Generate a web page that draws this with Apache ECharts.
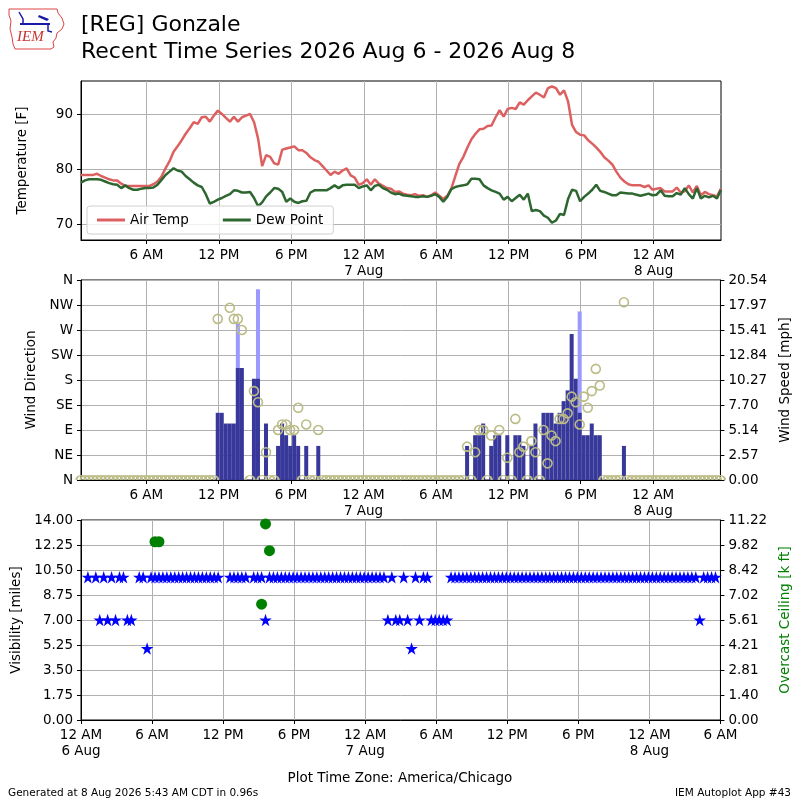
<!DOCTYPE html>
<html>
<head>
<meta charset="utf-8">
<title>[REG] Gonzale</title>
<script src="https://cdn.jsdelivr.net/npm/echarts@6/dist/echarts.min.js"></script>
<style>
    html, body { margin: 0; padding: 0; background: #fff; }
    #chart { width: 800px; height: 800px; }
</style>
</head>
<body>
<div id="chart"></div>
<script>
'use strict';

// observations every 20 minutes, first at 00:35 on 6 Aug (hours since 6 Aug 00:00)
var firstObs = 35 / 60;
var obsStep = 1 / 3;

var airTemp = [
    79, 79, 79, 79, 79.2, 78.8, 78.5, 78.2, 78, 78, 77.4, 77,
    77, 77, 77, 77, 77, 77, 77.3, 77.8, 78.7, 80.2, 81.5, 83.2,
    84.2, 85.3, 86.5, 87.5, 88.6, 88.3, 89.5, 89.6, 88.7, 89.8, 90.7, 90.1,
    89.4, 88.7, 89.6, 88.7, 89.5, 89.8, 90.1, 88.6, 85.6, 80.6, 82.6, 82.3,
    81.1, 80.9, 83.6, 83.8, 84, 84.2, 83.5, 83.5, 83, 82.2, 81.7, 81.4,
    80.6, 79.8, 79, 79.6, 79.2, 79.8, 80.2, 78.9, 78.5, 77.2, 77.5, 78.2,
    77.2, 78.2, 77.4, 77, 76.6, 76.5, 75.9, 76, 75.6, 75.4, 75.3, 75.5,
    75.2, 75.3, 75, 75.3, 75.8, 75.2, 74.6, 75.2, 76.5, 78.8, 81, 82.3,
    84, 85.5, 86.5, 87.3, 87.4, 87.9, 88, 89.5, 90.8, 89.6, 91, 91.2,
    91, 92.2, 91.8, 92.6, 93.3, 94, 93.6, 93.1, 94.8, 95.1, 94.8, 93.6,
    94.4, 92.4, 88.1, 86.8, 86.3, 86.2, 85.3, 84.7, 84, 83.2, 82.2, 81.6,
    80.9, 79.6, 78.5, 77.8, 77.3, 77.1, 77.1, 77.1, 76.8, 77.1, 76.3, 76.5,
    76.6, 76, 76, 76, 76.7, 75.8, 76, 77.1, 75.8, 77, 75.3, 75.9,
    75.5, 75.3, 75.1, 76.5
];

var dewPoint = [
    77.6, 78, 78.2, 78.2, 78.2, 78.1, 77.8, 77.5, 77.3, 77.2, 76.6, 77.1,
    76.6, 76.3, 76.3, 76.5, 76.6, 76.6, 76.7, 77.2, 78.1, 79, 79.6, 80.2,
    79.8, 79.6, 78.8, 78.2, 77.6, 77.1, 76.8, 75.5, 73.8, 74.1, 74.5, 74.8,
    75.2, 75.5, 76.2, 76.1, 75.8, 75.8, 75.9, 74.8, 73.3, 74, 75.1, 75.8,
    76.6, 76.5, 75.9, 74.1, 74.7, 74.1, 73.9, 74.2, 74.3, 75.8, 76.2, 76.2,
    76.2, 76.2, 76.6, 77.1, 76.6, 77.1, 77.2, 77.2, 77.2, 76.6, 76.9, 77.1,
    76.2, 77, 77.2, 76.6, 76.3, 75.8, 75.5, 75.6, 75.3, 75.2, 75.1, 75,
    75, 75.1, 75, 75.2, 75.5, 75, 74.1, 75, 76.4, 76.8, 77, 77.1,
    77.3, 78.3, 78.3, 78.2, 77.1, 76.6, 76.2, 75.9, 75.6, 74.5, 75, 74.2,
    74.8, 75.4, 74.5, 75.6, 72.4, 72.6, 72.4, 71.6, 71.2, 70.3, 70.7, 71.9,
    71.7, 74.6, 76.3, 76.1, 74.2, 75, 75.6, 76.3, 77.2, 76.1, 75.9, 75.6,
    75.3, 75.3, 75.8, 75.7, 75.6, 75.6, 75.4, 75.2, 75.4, 75.6, 75.3, 75.4,
    76.2, 75.2, 75.1, 75.1, 75.7, 75.4, 76.6, 75.5, 74.7, 76.6, 74.7, 75.2,
    74.9, 75.2, 74.7, 76.3
];

// degrees, 0 when calm
var windDir = [
    0, 0, 0, 0, 0, 0, 0, 0, 0, 0, 0, 0, 0, 0, 0, 0, 0, 0, 0, 0,
    0, 0, 0, 0, 0, 0, 0, 0, 0, 0, 0, 0, 0, 0, 290, null, null, 310, 290, 290,
    270, null, 0, 160, 140, 0, 50, 0, 0, 90, 100, 100, 90, 90, 130, 0, 100, 0, 0, 90,
    0, 0, 0, 0, 0, 0, 0, 0, 0, 0, 0, 0, 0, 0, 0, 0, 0, 0, 0, 0,
    0, 0, 0, 0, 0, 0, 0, 0, 0, 0, 0, 0, 0, 0, 0, 0, 60, 0, 50, 90,
    90, 0, 80, null, 90, 0, 40, 0, 110, 50, 60, 0, 70, 50, 0, 90, 30, 80, 70, 110,
    110, 120, 150, 140, 100, 150, 130, 160, 200, 170, 0, 0, 0, 0, 0, 320, 0, 0, 0, 0,
    0, 0, 0, 0, 0, 0, 0, 0, 0, 0, 0, 0, 0, 0, 0, 0, 0, 0, 0, 0
];

// mph
var windSpeed = [
    0, 0, 0, 0, 0, 0, 0, 0, 0, 0, 0, 0, 0, 0, 0, 0, 0, 0, 0, 0,
    0, 0, 0, 0, 0, 0, 0, 0, 0, 0, 0, 0, 0, 0, 6.9, 6.9, 5.8, 5.8, 5.8, 11.5,
    11.5, 0, 0, 10.4, 10.4, 0, 5.8, 0, 0, 3.5, 5.8, 4.6, 3.5, 4.6, 3.5, 0, 3.5, 0, 0, 3.5,
    0, 0, 0, 0, 0, 0, 0, 0, 0, 0, 0, 0, 0, 0, 0, 0, 0, 0, 0, 0,
    0, 0, 0, 0, 0, 0, 0, 0, 0, 0, 0, 0, 0, 0, 0, 0, 3.5, 0, 4.6, 4.6,
    5.8, 0, 3.5, 4.6, 4.6, 0, 4.6, 0, 4.6, 4.6, 3.5, 0, 3.5, 5.8, 0, 6.9, 6.9, 6.9, 5.8, 6.9,
    8.1, 9.2, 15, 10.4, 6.9, 4.6, 4.6, 5.8, 4.6, 4.6, 0, 0, 0, 0, 0, 3.5, 0, 0, 0, 0,
    0, 0, 0, 0, 0, 0, 0, 0, 0, 0, 0, 0, 0, 0, 0, 0, 0, 0, 0, 0
];

// gusts (mph) only where reported
var windGust = [];
for (var g = 0; g < windSpeed.length; g++) { windGust.push(null); }
windGust[39] = 16.1;
windGust[44] = 19.6;
windGust[124] = 17.3;

// miles
var visibility = [
    10, null, 10, 7, 10, 7, 10, 7, 10, 10, 7, 7, null, 10, 10, 5,
    10, 10, 10, 10, 10, 10, 10, 10, 10, 10, 10, 10, 10, 10, 10, 10, 10, 10,
    null, null, 10, 10, 10, 10, 10, null, 10, 10, 10, 7,
    10, 10, 10, 10, 10, 10, 10, 10, 10, 10, 10, 10, 10, 10, 10,
    10, 10, 10, 10, 10, 10, 10, 10, 10, 10, 10, 10, 10, 10, 10,
    7, 10, 7, 7, 10, 7, 5, 10, 7, 10, 10, 7, 7, 7, 7, 7,
    10, 10, 10, 10, 10, 10, 10, 10, 10, 10, 10, 10, 10, 10, 10, 10,
    10, 10, 10, 10, 10, 10, 10, 10, 10, 10, 10, 10, 10, 10, 10, 10,
    10, 10, 10, 10, 10, 10, 10, 10, 10, 10, 10, 10, 10, 10, 10, 10,
    10, 10, 10, 10, 10, 10, 10, 10, 10, 10, 10, 10, 10, 10, 10,
    7, 10, 10, 10, 10
];

// overcast ceiling, k ft
var ceiling = [];
for (var c = 0; c < visibility.length; c++) { ceiling.push(null); }
ceiling[17] = 10.0;
ceiling[18] = 10.0;
ceiling[44] = 6.5;
ceiling[45] = 11.0;
ceiling[46] = 9.5;

var timeTicks = [0, 6, 12, 18, 24, 30, 36, 42, 48, 54];
var timeTickLabels = ['12 AM\n6 Aug', '6 AM', '12 PM', '6 PM', '12 AM\n7 Aug',
    '6 AM', '12 PM', '6 PM', '12 AM\n8 Aug', '6 AM'];
var dirTickLabels = ['N', 'NE', 'E', 'SE', 'S', 'SW', 'W', 'NW', 'N'];
var speedTickLabels = ['0.00', '2.57', '5.14', '7.70', '10.27', '12.84', '15.41', '17.97', '20.54'];
var visTickLabels = ['0.00', '1.75', '3.50', '5.25', '7.00', '8.75', '10.50', '12.25', '14.00'];
var ceilTickLabels = ['0.00', '1.40', '2.81', '4.21', '5.61', '7.02', '8.42', '9.82', '11.22'];

var starPath = 'path://M50 0L61.23 34.55L97.55 34.55L68.17 55.9L79.39 90.45L50 69.1L20.61 90.45L31.83 55.9L2.45 34.55L38.77 34.55Z';
// upper half of a circle: calm circles sit on the panel floor and only their top half shows
var halfCirclePath = 'path://M0 50C0 22.4 22.4 0 50 0C77.6 0 100 22.4 100 50';

var pairs = function (values) {
    var out = [];
    for (var i = 0; i < values.length; i++) {
        out.push([firstObs + i * obsStep, values[i]]);
    }
    return out;
};

// split directions into real ones and calm (0) ones
var dirPairs = function (values, calm) {
    var out = [];
    for (var i = 0; i < values.length; i++) {
        if (values[i] === null) { continue; }
        if ((values[i] === 0) === calm) {
            out.push([firstObs + i * obsStep, values[i]]);
        }
    }
    return out;
};

var lastObs = firstObs + (airTemp.length - 1) * obsStep;
var fontSize = 13.5;

var timeLabel = function (v) {
    var k = timeTicks.indexOf(Math.round(v));
    return k < 0 ? '' : timeTickLabels[k];
};

var timeAxis = function (gridIndex, min, max, inner) {
    var ax = {
        type: 'value',
        gridIndex: gridIndex,
        min: min,
        max: max,
        axisLine: { onZero: false, lineStyle: { color: '#000', width: 1 } },
        axisTick: { length: 4, lineStyle: { color: '#000' } },
        axisLabel: { color: '#000', fontSize: fontSize, lineHeight: 16, margin: 7, formatter: timeLabel },
        splitLine: { show: true, lineStyle: { color: '#b0b0b0', width: 1 } }
    };
    if (inner) {
        ax.axisTick.customValues = inner;
        ax.axisLabel.customValues = inner;
    } else {
        ax.interval = 6;
    }
    return ax;
};

var listLabel = function (list, step) {
    return function (v) {
        var k = Math.round(v / step);
        return list[k] === undefined ? '' : list[k];
    };
};

var yAxisBase = function (gridIndex, opts) {
    var ax = {
        type: 'value',
        gridIndex: gridIndex,
        nameLocation: 'middle',
        nameTextStyle: { color: '#000', fontSize: fontSize },
        axisLine: { show: true, lineStyle: { color: '#000' } },
        axisTick: { show: true, length: 4, lineStyle: { color: '#000' } },
        axisLabel: { color: '#000', fontSize: fontSize, margin: 8 },
        splitLine: { show: false, lineStyle: { color: '#b0b0b0', width: 1 } }
    };
    for (var k in opts) {
        if (k === 'axisLabel' || k === 'axisTick' || k === 'splitLine' || k === 'nameTextStyle') {
            for (var j in opts[k]) { ax[k][j] = opts[k][j]; }
        } else {
            ax[k] = opts[k];
        }
    }
    return ax;
};

var myChart = echarts.init(document.getElementById('chart'), null, { renderer: 'canvas' });

var gridStyle = { show: true, borderColor: '#000', borderWidth: 1, backgroundColor: 'transparent' };
var dirColor = '#bcbc88';

var option = {
    animation: false,
    backgroundColor: '#fff',
    textStyle: { fontFamily: 'DejaVu Sans' },
    grid: [
        Object.assign({ left: 81, top: 81, width: 640, height: 159 }, gridStyle),
        Object.assign({ left: 81, top: 280, width: 640, height: 200 }, gridStyle),
        Object.assign({ left: 81, top: 520, width: 640, height: 200 }, gridStyle)
    ],
    title: [
        {
            text: 'Plot Time Zone: America/Chicago',
            left: 'center', top: 766,
            textStyle: { color: '#000', fontSize: fontSize, fontWeight: 'normal' }
        },
        {
            text: 'Generated at 8 Aug 2026 5:43 AM CDT in 0.96s',
            left: 3, top: 783,
            textStyle: { color: '#000', fontSize: 10.5, fontWeight: 'normal' }
        },
        {
            text: 'IEM Autoplot App #43',
            right: 4, top: 783,
            textStyle: { color: '#000', fontSize: 10.5, fontWeight: 'normal' }
        }
    ],
    graphic: [
        {
            type: 'text', left: 81, top: 14,
            style: { text: '[REG] Gonzale', fill: '#000', font: '22px "DejaVu Sans"' }
        },
        {
            type: 'text', left: 81, top: 41,
            style: { text: 'Recent Time Series 2026 Aug 6 - 2026 Aug 8', fill: '#000', font: '22px "DejaVu Sans"' }
        },
        // IEM logo, roughly
        {
            type: 'polygon',
            shape: { points: [[9, 9], [57, 9], [58, 13], [62, 18], [64, 24], [62, 29], [57, 33], [56, 38],
                [53, 42], [54, 47], [51, 49], [15, 49], [13, 44], [12, 37], [10, 29], [11, 21], [9, 15]] },
            style: { fill: 'none', stroke: '#d44', lineWidth: 1 }
        },
        {
            type: 'polyline',
            shape: { points: [[20, 24], [50, 24]] },
            style: { stroke: '#1a1aa8', lineWidth: 2 }
        },
        {
            type: 'polyline',
            shape: { points: [[19, 12], [23, 19], [23, 24]] },
            style: { stroke: '#1a1aa8', lineWidth: 1.5 }
        },
        {
            type: 'polygon',
            shape: { points: [[39, 15], [49, 19], [47, 21], [38, 17]] },
            style: { fill: '#1a1aa8' }
        },
        {
            type: 'polyline',
            shape: { points: [[48, 24], [48, 31], [52, 32]] },
            style: { stroke: '#1a1aa8', lineWidth: 1.5 }
        },
        {
            type: 'text', left: 17, top: 30,
            style: { text: 'IEM', fill: '#c83232', font: 'italic 15px "Liberation Serif"' }
        }
    ],
    legend: {
        left: 87, top: 206,
        orient: 'horizontal',
        icon: 'rect',
        itemWidth: 28,
        itemHeight: 3,
        itemGap: 34,
        padding: [7, 10, 7, 10],
        borderColor: '#d0d0d0',
        borderWidth: 1,
        borderRadius: 3,
        backgroundColor: 'rgba(255,255,255,0.8)',
        textStyle: { color: '#000', fontSize: fontSize },
        data: ['Air Temp', 'Dew Point']
    },
    xAxis: [
        timeAxis(0, firstObs, lastObs, [6, 12, 18, 24, 30, 36, 42, 48]),
        timeAxis(1, firstObs, lastObs, [6, 12, 18, 24, 30, 36, 42, 48]),
        timeAxis(2, 0, 54, null)
    ],
    yAxis: [
        yAxisBase(0, {
            min: 67.15, max: 96.1,
            name: 'Temperature [F]', nameGap: 52,
            axisTick: { customValues: [70, 80, 90] },
            axisLabel: { customValues: [70, 80, 90] },
            splitLine: { show: true }
        }),
        yAxisBase(1, {
            min: 0, max: 360, interval: 45,
            name: 'Wind Direction', nameGap: 42,
            axisLabel: { formatter: listLabel(dirTickLabels, 45) },
            splitLine: { show: true }
        }),
        yAxisBase(1, {
            min: 0, max: 20.54, interval: 20.54 / 8, position: 'right',
            name: 'Wind Speed [mph]', nameGap: 54,
            axisLabel: { formatter: listLabel(speedTickLabels, 20.54 / 8) }
        }),
        yAxisBase(2, {
            min: 0, max: 14, interval: 1.75,
            name: 'Visibility [miles]', nameGap: 58,
            axisLabel: { formatter: listLabel(visTickLabels, 1.75) },
            splitLine: { show: true }
        }),
        yAxisBase(2, {
            min: 0, max: 11.22, interval: 11.22 / 8, position: 'right',
            name: 'Overcast Ceiling [k ft]', nameGap: 55,
            nameTextStyle: { color: '#008000' },
            axisLabel: { formatter: listLabel(ceilTickLabels, 11.22 / 8) }
        })
    ],
    series: [
        {
            name: 'Air Temp', type: 'line',
            xAxisIndex: 0, yAxisIndex: 0,
            data: pairs(airTemp),
            symbol: 'none',
            color: '#dd6060',
            lineStyle: { color: '#dd6060', width: 2.5 }
        },
        {
            name: 'Dew Point', type: 'line',
            xAxisIndex: 0, yAxisIndex: 0,
            data: pairs(dewPoint),
            symbol: 'none',
            color: '#2e6630',
            lineStyle: { color: '#2e6630', width: 2.5 }
        },
        {
            name: 'Wind Gust', type: 'bar',
            xAxisIndex: 1, yAxisIndex: 2,
            data: pairs(windGust),
            barWidth: 4,
            barGap: '-100%',
            itemStyle: { color: '#9999ff' }
        },
        {
            name: 'Wind Speed', type: 'bar',
            xAxisIndex: 1, yAxisIndex: 2,
            data: pairs(windSpeed),
            barWidth: 4,
            barGap: '-100%',
            itemStyle: { color: '#38389a' }
        },
        {
            name: 'Wind Direction', type: 'scatter',
            xAxisIndex: 1, yAxisIndex: 1,
            data: dirPairs(windDir, false),
            symbol: 'circle',
            symbolSize: 9,
            itemStyle: { color: 'rgba(0,0,0,0)', borderColor: dirColor, borderWidth: 1.6, opacity: 1 }
        },
        {
            name: 'Calm', type: 'scatter',
            xAxisIndex: 1, yAxisIndex: 1,
            data: dirPairs(windDir, true),
            symbol: halfCirclePath,
            symbolSize: [9, 4.5],
            symbolOffset: [0, '-50%'],
            itemStyle: { color: 'rgba(0,0,0,0)', borderColor: dirColor, borderWidth: 1.6, opacity: 1 }
        },
        {
            name: 'Visibility', type: 'scatter',
            xAxisIndex: 2, yAxisIndex: 3,
            data: pairs(visibility),
            symbol: starPath,
            symbolSize: 12.5,
            itemStyle: { color: '#0000ff', opacity: 1 }
        },
        {
            name: 'Ceiling', type: 'scatter',
            xAxisIndex: 2, yAxisIndex: 4,
            data: pairs(ceiling),
            symbol: 'circle',
            symbolSize: 11,
            itemStyle: { color: '#008000', opacity: 1 }
        }
    ]
};

myChart.setOption(option);
</script>
</body>
</html>
